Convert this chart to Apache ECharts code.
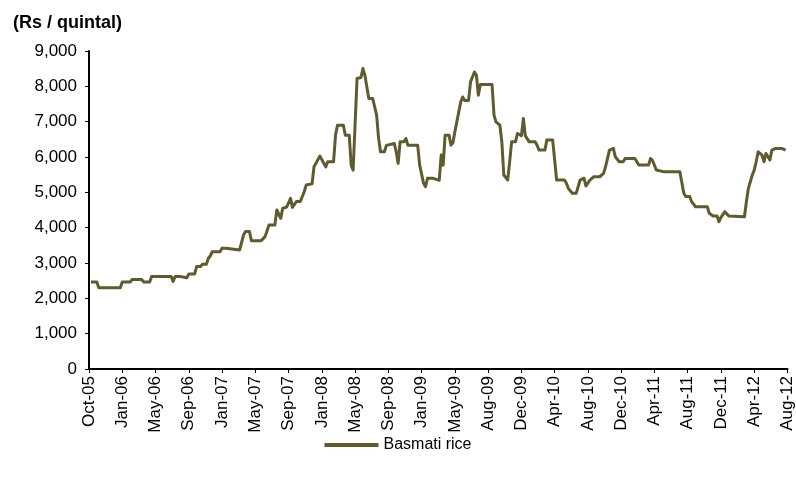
<!DOCTYPE html>
<html>
<head>
<meta charset="utf-8">
<script src="https://cdn.jsdelivr.net/npm/echarts@6/dist/echarts.min.js"></script>
<style>
html,body{margin:0;padding:0;background:#fff;}
#chart{width:796px;height:480px;}
</style>
</head>
<body>
<div id="chart"></div>
<script>
// Tick labels along the x axis (one every 17 weeks, starting Oct-05)
var tickLabels = ['Oct-05','Jan-06','May-06','Sep-06','Jan-07','May-07','Sep-07','Jan-08','May-08','Sep-08','Jan-09','May-09','Aug-09','Dec-09','Apr-10','Aug-10','Dec-10','Apr-11','Aug-11','Dec-11','Apr-12','Aug-12'];
var weeksPerTick = 17;
var seriesName = 'Basmati rice';

// Week index since Oct-05 (change points of the weekly price series)
var weeks = [1,4,5,16,17,21,22,27,28,31,32,42,43,44,47,48,50,51,54,55,57,58,60,61,62,63,67,68,70,71,77,79,80,82,83,88,90,92,95,96,97,98,99,101,103,104,106,108,110,111,114,115,116,118,119,121,122,125,126,127,130,131,133,134,135,136,137,139,140,141,142,143,145,147,148,149,151,152,153,156,157,158,159,161,162,163,168,169,171,172,173,176,177,179,180,181,182,184,185,186,187,188,190,191,192,194,195,197,198,199,200,206,207,208,209,210,211,212,213,214,215,216,218,219,221,222,223,225,228,229,230,233,234,237,238,239,243,244,245,246,247,249,251,253,254,255,256,257,258,261,263,264,266,267,268,269,271,273,274,279,281,286,287,288,289,290,291,294,295,297,302,303,304,305,307,308,309,310,316,317,318,319,321,322,323,324,325,327,328,335,336,337,338,339,340,341,342,343,344,345,346,348,349,350,351,354,356];

// Basmati rice price (Rs / quintal)
var prices = [2460,2460,2300,2300,2460,2460,2530,2530,2460,2460,2615,2615,2480,2615,2615,2580,2580,2690,2690,2900,2900,2965,2965,3135,3200,3320,3320,3420,3420,3370,3370,3795,3890,3890,3633,3633,3746,4076,4076,4500,4500,4266,4548,4580,4830,4576,4740,4740,5017,5206,5240,5723,5820,6026,6000,5720,5865,5865,6619,6900,6900,6619,6619,5770,5630,5630,8220,8250,8503,8313,8313,7655,7655,7184,6534,6147,6147,6330,6384,6384,6150,5820,6430,6430,6520,6330,6330,5770,5255,5160,5396,5396,5340,5340,6054,5770,6619,6619,6336,6400,6712,6750,7560,7700,7600,7600,8125,8407,8313,7749,8051,8051,7184,6995,6995,6900,6430,5490,5490,5348,5865,6430,6430,6667,6600,7090,6600,6430,6430,6336,6195,6195,6478,6478,5913,5348,5348,5255,5113,5113,4972,4972,5348,5400,5178,5178,5348,5348,5441,5441,5537,5723,6195,6243,6243,6006,5865,5865,5960,5960,5771,5771,5960,5900,5850,5630,5580,5580,5537,5580,5580,5537,4972,4880,4880,4735,4735,4593,4593,4407,4407,4330,4330,4170,4290,4290,4452,4330,4310,4310,4735,5113,5113,5490,5630,5865,6147,6147,6050,5865,6100,5913,6195,6195,6243,6243,6195];

var yMin = 0, yMax = 9000, yInterval = 1000;

var data = weeks.map(function(w, i){ return [w, prices[i]]; });

var chart = echarts.init(document.getElementById('chart'), null, {renderer:'canvas'});
var FONT = "'Liberation Sans', Arial, sans-serif";
chart.setOption({
  animation: false,
  backgroundColor: '#ffffff',
  title: {
    text: '(Rs / quintal)',
    left: 8, top: 9,
    textStyle: {fontFamily: FONT, fontSize: 18, fontWeight: 'bold', color: '#000'}
  },
  grid: {left: 89, right: 6, top: 51, bottom: 111, containLabel: false},
  legend: {
    data: [{name: seriesName, icon: 'rect'}],
    top: 432, left: 'center',
    itemWidth: 54, itemHeight: 4, itemGap: 4,
    textStyle: {fontFamily: FONT, fontSize: 16, color: '#000'}
  },
  xAxis: {
    type: 'value',
    min: 0,
    max: weeksPerTick * (tickLabels.length - 1),
    interval: weeksPerTick,
    axisLine: {show: true, lineStyle: {color: '#000', width: 2}},
    axisTick: {show: true, length: 4, lineStyle: {color: '#000', width: 1}},
    splitLine: {show: false},
    axisLabel: {
      rotate: 90, margin: 7,
      fontFamily: FONT, fontSize: 17, color: '#000',
      showMinLabel: true, showMaxLabel: true,
      formatter: function(v){ return tickLabels[Math.round(v / weeksPerTick)] || ''; }
    }
  },
  yAxis: {
    type: 'value',
    min: yMin, max: yMax, interval: yInterval,
    axisLine: {show: true, lineStyle: {color: '#000', width: 2}},
    axisTick: {show: true, length: 4, lineStyle: {color: '#000', width: 1}},
    splitLine: {show: false},
    axisLabel: {
      margin: 12, fontFamily: FONT, fontSize: 17, color: '#000',
      formatter: function(v){ return v.toLocaleString('en-US'); }
    }
  },
  series: [{
    name: seriesName,
    type: 'line',
    data: data,
    showSymbol: false,
    symbol: 'none',
    lineStyle: {color: '#5f5b2f', width: 3, join: 'round'},
    itemStyle: {color: '#5f5b2f'}
  }]
});
</script>
</body>
</html>
